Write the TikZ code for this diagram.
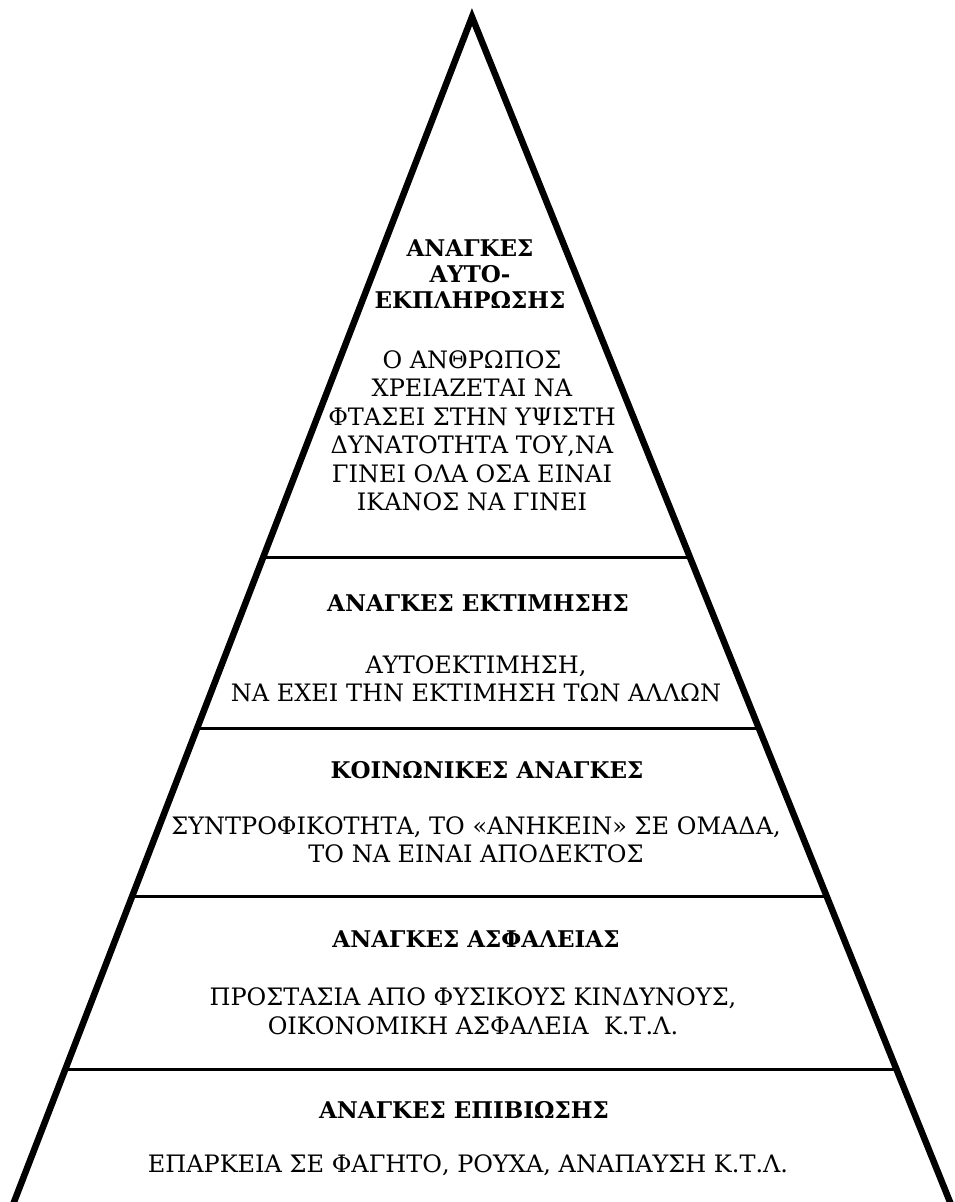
\documentclass[tikz,border=0pt]{standalone}
\usepackage{fontspec}
\newfontfamily\pyrfont{DejaVu Serif}
\usetikzlibrary{calc}
\begin{document}
\begin{tikzpicture}[x=1pt,y=-1pt,
  side/.style={line width=6.5pt, line join=miter},
  divider/.style={line width=3pt},
  head/.style={font=\pyrfont\fontsize{23}{26}\selectfont\bfseries, align=center, inner sep=0pt},
  body/.style={font=\pyrfont\fontsize{24}{28.5}\selectfont, align=center, inner sep=0pt}]
\useasboundingbox (0,0) rectangle (954,1202);
\clip (0,0) rectangle (954,1202);
\fill[white] (0,0) rectangle (954,1202);
\coordinate (A) at (472,17);
\coordinate (L) at (14,1202);
\coordinate (R) at (950,1202);
\foreach \t in {0.4565,0.6000,0.7426,0.8878}
  \draw[divider] ($(A)!\t!(L)$) -- ($(A)!\t!(R)$);
\draw[side] ($(A)!1.05!(L)$) -- (A) -- ($(A)!1.05!(R)$);

\node[head] (h1) at (470,274) {ΑΝΑΓΚΕΣ\\ΑΥΤΟ-\\ΕΚΠΛΗΡΩΣΗΣ};
\node[body] (b1) at (472,431) {Ο ΑΝΘΡΩΠΟΣ\\ΧΡΕΙΑΖΕΤΑΙ ΝΑ\\ΦΤΑΣΕΙ ΣΤΗΝ ΥΨΙΣΤΗ\\ΔΥΝΑΤΟΤΗΤΑ ΤΟΥ,ΝΑ\\ΓΙΝΕΙ ΟΛΑ ΟΣΑ ΕΙΝΑΙ\\ΙΚΑΝΟΣ ΝΑ ΓΙΝΕΙ};

\node[head] (h2) at (478,603) {ΑΝΑΓΚΕΣ ΕΚΤΙΜΗΣΗΣ};
\node[body] (b2) at (476,679) {ΑΥΤΟΕΚΤΙΜΗΣΗ,\\ΝΑ ΕΧΕΙ ΤΗΝ ΕΚΤΙΜΗΣΗ ΤΩΝ ΑΛΛΩΝ};

\node[head] (h3) at (487,770) {ΚΟΙΝΩΝΙΚΕΣ ΑΝΑΓΚΕΣ};
\node[body] (b3) at (476,840) {ΣΥΝΤΡΟΦΙΚΟΤΗΤΑ, ΤΟ «ΑΝΗΚΕΙΝ» ΣΕ ΟΜΑΔΑ,\\ΤΟ ΝΑ ΕΙΝΑΙ ΑΠΟΔΕΚΤΟΣ};

\node[head] (h4) at (476,939) {ΑΝΑΓΚΕΣ ΑΣΦΑΛΕΙΑΣ};
\node[body] (b4) at (473,1011) {ΠΡΟΣΤΑΣΙΑ ΑΠΟ ΦΥΣΙΚΟΥΣ ΚΙΝΔΥΝΟΥΣ,\\ΟΙΚΟΝΟΜΙΚΗ ΑΣΦΑΛΕΙΑ\ \ Κ.Τ.Λ.};

\node[head] (h5) at (464,1110) {ΑΝΑΓΚΕΣ ΕΠΙΒΙΩΣΗΣ};
\node[body] (b5) at (468,1165) {ΕΠΑΡΚΕΙΑ ΣΕ ΦΑΓΗΤΟ, ΡΟΥΧΑ, ΑΝΑΠΑΥΣΗ Κ.Τ.Λ.};
\end{tikzpicture}
\end{document}
